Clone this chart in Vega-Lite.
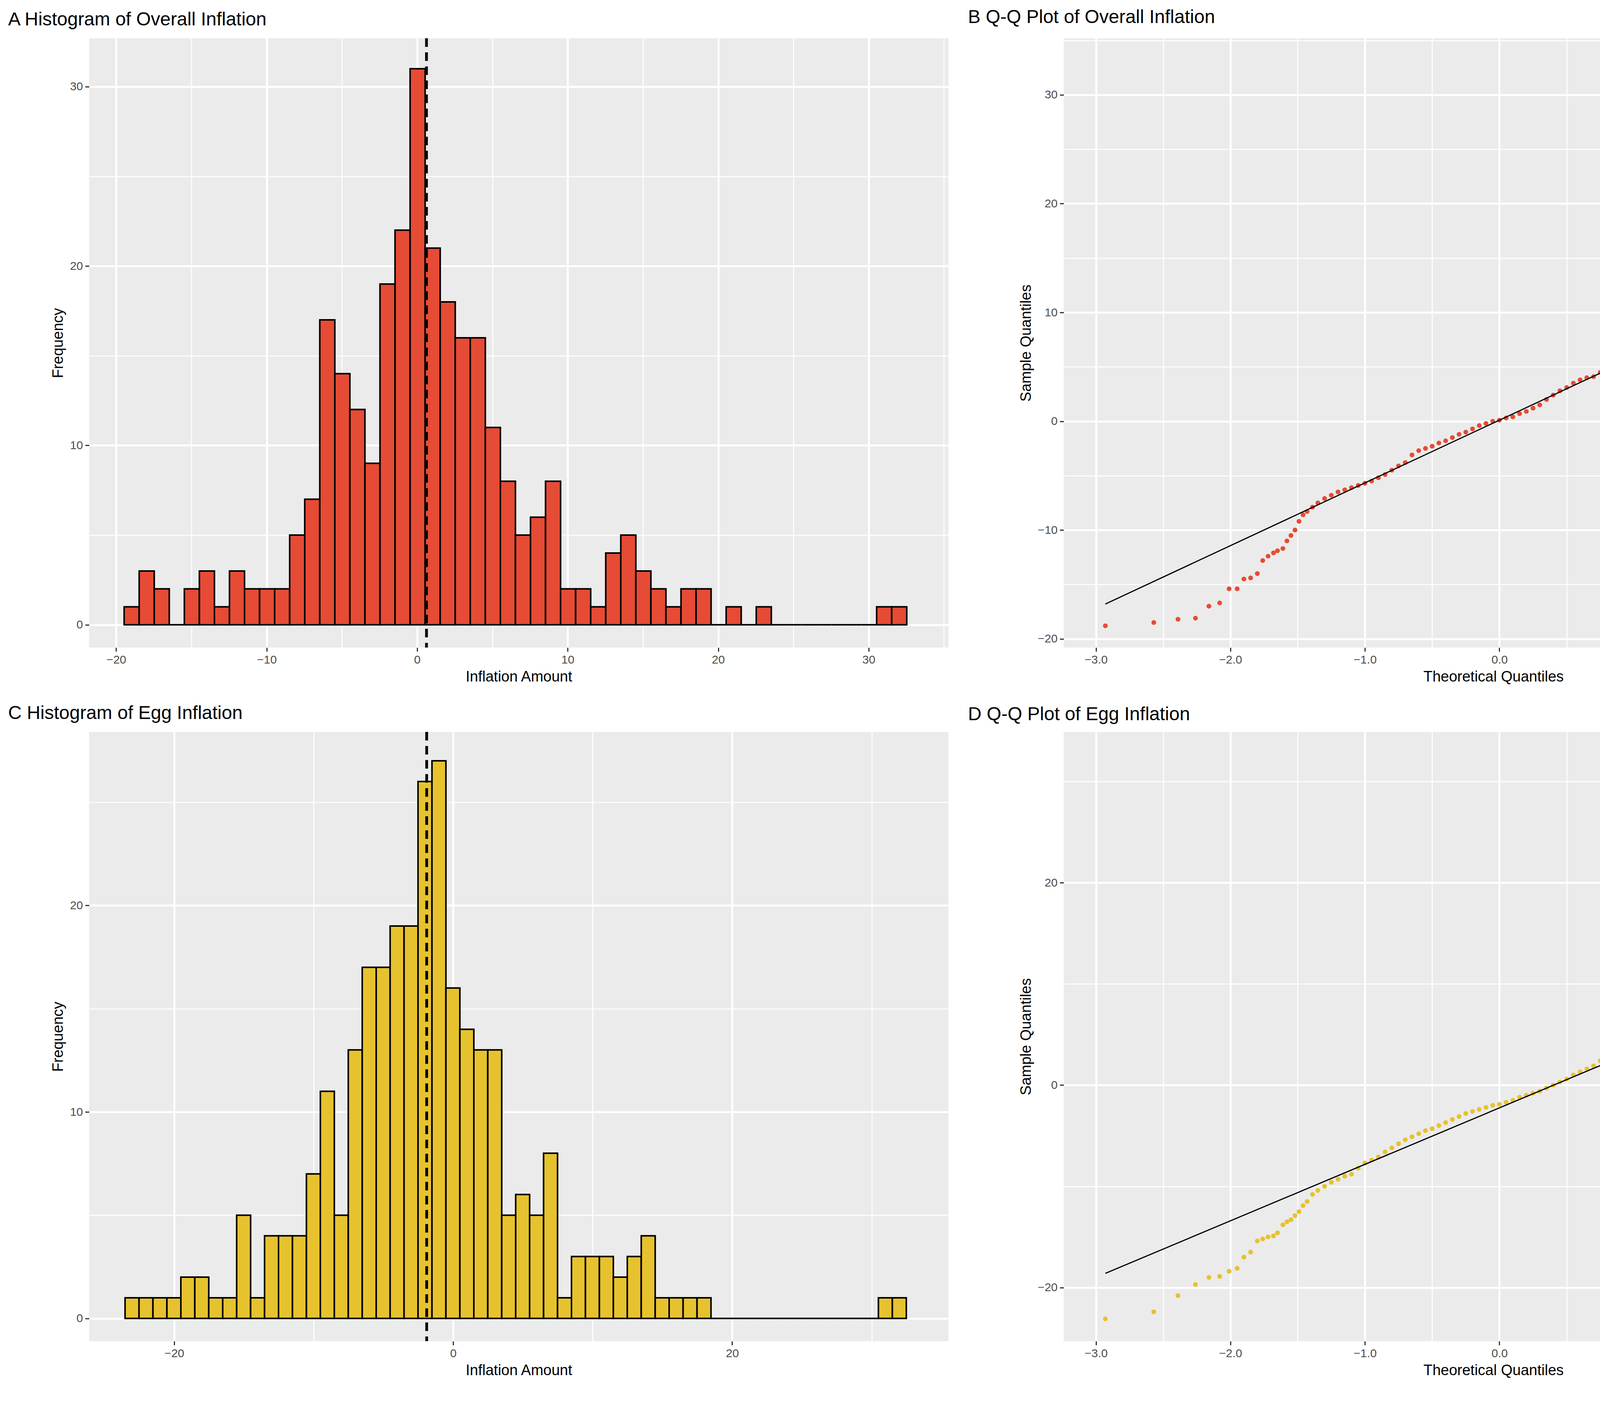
{
"$schema":"https://vega.github.io/schema/vega-lite/v6.json",
"background":"white",
"padding":{"left":20,"top":20,"right":30,"bottom":20},
"config":{"font":"Liberation Sans","view":{"fill":"#EBEBEB","stroke":null},
"axis":{"grid":true,"gridColor":"white","domain":false,"tickColor":"#333333","tickSize":10,"tickWidth":3,"labelFontSize":30,"labelColor":"#4D4D4D","titleFontSize":38,"titleFontWeight":"normal","titleColor":"black","labelPadding":6,"titlePadding":10,"labelOverlap":false},
"title":{"fontSize":48,"fontWeight":"normal","anchor":"start","color":"black","offset":20},
"concat":{"spacing":50}},
"datasets":{
"histA":[{"s":-19.47,"c":1},{"s":-18.47,"c":3},{"s":-17.47,"c":2},{"s":-16.47,"c":0},{"s":-15.47,"c":2},{"s":-14.47,"c":3},{"s":-13.47,"c":1},{"s":-12.47,"c":3},{"s":-11.47,"c":2},{"s":-10.47,"c":2},{"s":-9.47,"c":2},{"s":-8.47,"c":5},{"s":-7.47,"c":7},{"s":-6.47,"c":17},{"s":-5.47,"c":14},{"s":-4.47,"c":12},{"s":-3.47,"c":9},{"s":-2.47,"c":19},{"s":-1.47,"c":22},{"s":-0.47,"c":31},{"s":0.53,"c":21},{"s":1.53,"c":18},{"s":2.53,"c":16},{"s":3.53,"c":16},{"s":4.53,"c":11},{"s":5.53,"c":8},{"s":6.53,"c":5},{"s":7.53,"c":6},{"s":8.53,"c":8},{"s":9.53,"c":2},{"s":10.53,"c":2},{"s":11.53,"c":1},{"s":12.53,"c":4},{"s":13.53,"c":5},{"s":14.53,"c":3},{"s":15.53,"c":2},{"s":16.53,"c":1},{"s":17.53,"c":2},{"s":18.53,"c":2},{"s":19.53,"c":0},{"s":20.53,"c":1},{"s":21.53,"c":0},{"s":22.53,"c":1},{"s":23.53,"c":0},{"s":24.53,"c":0},{"s":25.53,"c":0},{"s":26.53,"c":0},{"s":27.53,"c":0},{"s":28.53,"c":0},{"s":29.53,"c":0},{"s":30.53,"c":1},{"s":31.53,"c":1}],
"histC":[{"s":-23.52,"c":1},{"s":-22.52,"c":1},{"s":-21.52,"c":1},{"s":-20.52,"c":1},{"s":-19.52,"c":2},{"s":-18.52,"c":2},{"s":-17.52,"c":1},{"s":-16.52,"c":1},{"s":-15.52,"c":5},{"s":-14.52,"c":1},{"s":-13.52,"c":4},{"s":-12.52,"c":4},{"s":-11.52,"c":4},{"s":-10.52,"c":7},{"s":-9.52,"c":11},{"s":-8.52,"c":5},{"s":-7.52,"c":13},{"s":-6.52,"c":17},{"s":-5.52,"c":17},{"s":-4.52,"c":19},{"s":-3.52,"c":19},{"s":-2.52,"c":26},{"s":-1.52,"c":27},{"s":-0.52,"c":16},{"s":0.48,"c":14},{"s":1.48,"c":13},{"s":2.48,"c":13},{"s":3.48,"c":5},{"s":4.48,"c":6},{"s":5.48,"c":5},{"s":6.48,"c":8},{"s":7.48,"c":1},{"s":8.48,"c":3},{"s":9.48,"c":3},{"s":10.48,"c":3},{"s":11.48,"c":2},{"s":12.48,"c":3},{"s":13.48,"c":4},{"s":14.48,"c":1},{"s":15.48,"c":1},{"s":16.48,"c":1},{"s":17.48,"c":1},{"s":18.48,"c":0},{"s":19.48,"c":0},{"s":20.48,"c":0},{"s":21.48,"c":0},{"s":22.48,"c":0},{"s":23.48,"c":0},{"s":24.48,"c":0},{"s":25.48,"c":0},{"s":26.48,"c":0},{"s":27.48,"c":0},{"s":28.48,"c":0},{"s":29.48,"c":0},{"s":30.48,"c":1},{"s":31.48,"c":1}],
"qqB":[{"t":-2.93,"v":-18.8},{"t":-2.57,"v":-18.5},{"t":-2.39,"v":-18.2},{"t":-2.26,"v":-18.1},{"t":-2.16,"v":-17.0},{"t":-2.08,"v":-16.7},{"t":-2.01,"v":-15.4},{"t":-1.95,"v":-15.4},{"t":-1.9,"v":-14.5},{"t":-1.85,"v":-14.4},{"t":-1.8,"v":-14.0},{"t":-1.76,"v":-12.8},{"t":-1.72,"v":-12.4},{"t":-1.68,"v":-12.1},{"t":-1.65,"v":-11.9},{"t":-1.61,"v":-11.7},{"t":-1.58,"v":-11.0},{"t":-1.55,"v":-10.5},{"t":-1.52,"v":-10.0},{"t":-1.49,"v":-9.2},{"t":-1.46,"v":-8.6},{"t":-1.43,"v":-8.3},{"t":-1.39,"v":-7.9},{"t":-1.35,"v":-7.5},{"t":-1.3,"v":-7.1},{"t":-1.25,"v":-6.8},{"t":-1.2,"v":-6.5},{"t":-1.15,"v":-6.3},{"t":-1.1,"v":-6.1},{"t":-1.05,"v":-5.9},{"t":-1.0,"v":-5.7},{"t":-0.95,"v":-5.5},{"t":-0.9,"v":-5.2},{"t":-0.85,"v":-4.9},{"t":-0.8,"v":-4.5},{"t":-0.75,"v":-4.1},{"t":-0.7,"v":-3.8},{"t":-0.65,"v":-3.1},{"t":-0.6,"v":-2.7},{"t":-0.55,"v":-2.5},{"t":-0.5,"v":-2.3},{"t":-0.45,"v":-2.0},{"t":-0.4,"v":-1.8},{"t":-0.35,"v":-1.5},{"t":-0.3,"v":-1.2},{"t":-0.25,"v":-1.0},{"t":-0.2,"v":-0.7},{"t":-0.15,"v":-0.4},{"t":-0.1,"v":-0.2},{"t":-0.05,"v":0.0},{"t":0.0,"v":0.1},{"t":0.05,"v":0.3},{"t":0.1,"v":0.4},{"t":0.15,"v":0.7},{"t":0.2,"v":0.9},{"t":0.25,"v":1.2},{"t":0.3,"v":1.5},{"t":0.35,"v":2.0},{"t":0.4,"v":2.4},{"t":0.45,"v":2.8},{"t":0.5,"v":3.1},{"t":0.55,"v":3.5},{"t":0.6,"v":3.8},{"t":0.65,"v":4.0},{"t":0.7,"v":4.1},{"t":0.75,"v":4.5},{"t":0.8,"v":4.9},{"t":0.85,"v":5.3},{"t":0.9,"v":5.6},{"t":0.95,"v":6.1},{"t":1.0,"v":6.6},{"t":1.05,"v":7.5},{"t":1.1,"v":8.3},{"t":1.15,"v":8.8},{"t":1.2,"v":9.0},{"t":1.25,"v":9.2},{"t":1.3,"v":9.5},{"t":1.35,"v":10.0},{"t":1.4,"v":11.3},{"t":1.43,"v":12.0},{"t":1.46,"v":12.7},{"t":1.49,"v":13.3},{"t":1.52,"v":13.5},{"t":1.55,"v":13.6},{"t":1.58,"v":13.7},{"t":1.61,"v":13.9},{"t":1.65,"v":14.3},{"t":1.68,"v":14.5},{"t":1.72,"v":15.0},{"t":1.76,"v":15.6},{"t":1.8,"v":16.0},{"t":1.85,"v":17.2},{"t":1.9,"v":17.6},{"t":1.95,"v":18.2},{"t":2.01,"v":18.7},{"t":2.08,"v":18.8},{"t":2.16,"v":18.8},{"t":2.26,"v":20.5},{"t":2.39,"v":23.1},{"t":2.57,"v":31.0},{"t":2.93,"v":32.4}],
"qqD":[{"t":-2.93,"v":-23.1},{"t":-2.57,"v":-22.4},{"t":-2.39,"v":-20.8},{"t":-2.26,"v":-19.7},{"t":-2.16,"v":-19.0},{"t":-2.08,"v":-18.9},{"t":-2.01,"v":-18.4},{"t":-1.95,"v":-18.1},{"t":-1.9,"v":-17.0},{"t":-1.85,"v":-16.5},{"t":-1.8,"v":-15.4},{"t":-1.76,"v":-15.2},{"t":-1.72,"v":-15.0},{"t":-1.68,"v":-14.9},{"t":-1.65,"v":-14.6},{"t":-1.61,"v":-13.8},{"t":-1.58,"v":-13.5},{"t":-1.55,"v":-13.3},{"t":-1.52,"v":-12.9},{"t":-1.49,"v":-12.5},{"t":-1.46,"v":-11.9},{"t":-1.43,"v":-11.5},{"t":-1.39,"v":-10.8},{"t":-1.35,"v":-10.4},{"t":-1.3,"v":-10.0},{"t":-1.25,"v":-9.6},{"t":-1.2,"v":-9.3},{"t":-1.15,"v":-9.0},{"t":-1.1,"v":-8.8},{"t":-1.05,"v":-8.2},{"t":-1.0,"v":-7.7},{"t":-0.95,"v":-7.4},{"t":-0.9,"v":-7.1},{"t":-0.85,"v":-6.6},{"t":-0.8,"v":-6.2},{"t":-0.75,"v":-5.8},{"t":-0.7,"v":-5.4},{"t":-0.65,"v":-5.1},{"t":-0.6,"v":-4.8},{"t":-0.55,"v":-4.5},{"t":-0.5,"v":-4.3},{"t":-0.45,"v":-4.0},{"t":-0.4,"v":-3.7},{"t":-0.35,"v":-3.4},{"t":-0.3,"v":-3.1},{"t":-0.25,"v":-2.8},{"t":-0.2,"v":-2.6},{"t":-0.15,"v":-2.4},{"t":-0.1,"v":-2.2},{"t":-0.05,"v":-2.0},{"t":0.0,"v":-1.9},{"t":0.05,"v":-1.7},{"t":0.1,"v":-1.5},{"t":0.15,"v":-1.2},{"t":0.2,"v":-1.0},{"t":0.25,"v":-0.8},{"t":0.3,"v":-0.6},{"t":0.35,"v":-0.3},{"t":0.4,"v":0.0},{"t":0.45,"v":0.3},{"t":0.5,"v":0.6},{"t":0.55,"v":1.0},{"t":0.6,"v":1.3},{"t":0.65,"v":1.6},{"t":0.7,"v":1.9},{"t":0.75,"v":2.4},{"t":0.8,"v":2.8},{"t":0.85,"v":3.1},{"t":0.9,"v":3.5},{"t":0.95,"v":3.9},{"t":1.0,"v":4.4},{"t":1.05,"v":5.2},{"t":1.1,"v":5.8},{"t":1.15,"v":6.3},{"t":1.2,"v":7.0},{"t":1.25,"v":7.1},{"t":1.3,"v":7.3},{"t":1.35,"v":8.2},{"t":1.4,"v":9.0},{"t":1.43,"v":9.5},{"t":1.46,"v":10.0},{"t":1.49,"v":10.3},{"t":1.52,"v":10.6},{"t":1.55,"v":11.3},{"t":1.58,"v":11.6},{"t":1.61,"v":11.9},{"t":1.65,"v":12.3},{"t":1.68,"v":12.6},{"t":1.72,"v":12.9},{"t":1.76,"v":13.2},{"t":1.8,"v":14.0},{"t":1.85,"v":14.1},{"t":1.9,"v":14.2},{"t":1.95,"v":14.3},{"t":2.01,"v":14.5},{"t":2.08,"v":14.8},{"t":2.16,"v":15.6},{"t":2.26,"v":16.8},{"t":2.39,"v":18.5},{"t":2.57,"v":30.9},{"t":2.93,"v":32.3}],
"lineB":[{"t":-2.93,"v":-16.8},{"t":2.93,"v":17.0}],
"lineD":[{"t":-2.93,"v":-18.6},{"t":2.93,"v":14.1}]
},
"vconcat":[
{"hconcat":[
{"width":2200,"height":1560,"title":{"text":"A    Histogram of Overall Inflation","dx":-110},
"layer":[
{"data":{"name":"histA"},"transform":[{"calculate":"datum.s+1","as":"e"}],"mark":{"type":"bar","fill":"#E64B35","stroke":"black","strokeWidth":4},"encoding":{
 "x":{"field":"s","type":"quantitative","scale":{"domain":[-21.8,35.3],"nice":false,"zero":false},"axis":{"values":[-20,-15,-10,-5,0,5,10,15,20,25,30,35],"labelExpr":"datum.value % 10 === 0 ? datum.label : ''","tickOpacity":{"condition":{"test":"datum.value % 10 !== 0","value":0},"value":1},"gridWidth":{"condition":{"test":"datum.value % 10 !== 0","value":2.5},"value":5},"title":"Inflation Amount"}},"x2":{"field":"e"},
 "y":{"field":"c","type":"quantitative","scale":{"domain":[-1.27,32.7],"nice":false,"zero":false},"axis":{"values":[0,5,10,15,20,25,30],"labelExpr":"datum.value % 10 === 0 ? datum.label : ''","tickOpacity":{"condition":{"test":"datum.value % 10 !== 0","value":0},"value":1},"gridWidth":{"condition":{"test":"datum.value % 10 !== 0","value":2.5},"value":5},"title":"Frequency"}},"y2":{"datum":0}}},
{"data":{"values":[{}]},"mark":{"type":"rule","strokeDash":[22,14],"strokeWidth":7,"color":"black"},"encoding":{"x":{"datum":0.62}}}
]},
{"width":2200,"height":1560,"title":{"text":"B    Q-Q Plot of Overall Inflation","dx":-130},
"layer":[
{"data":{"name":"qqB"},"mark":{"type":"circle","size":150,"color":"#E64B35","opacity":1},"encoding":{
 "x":{"field":"t","type":"quantitative","scale":{"domain":[-3.24,3.15],"nice":false,"zero":false},"axis":{"values":[-3,-2.5,-2,-1.5,-1,-0.5,0,0.5,1,1.5,2,2.5,3],"labelExpr":"datum.value % 1 === 0 ? datum.label : ''","tickOpacity":{"condition":{"test":"datum.value % 1 !== 0","value":0},"value":1},"gridWidth":{"condition":{"test":"datum.value % 1 !== 0","value":2.5},"value":5},"title":"Theoretical Quantiles"}},
 "y":{"field":"v","type":"quantitative","scale":{"domain":[-20.8,35.2],"nice":false,"zero":false},"axis":{"values":[-20,-15,-10,-5,0,5,10,15,20,25,30,35],"labelExpr":"datum.value % 10 === 0 ? datum.label : ''","tickOpacity":{"condition":{"test":"datum.value % 10 !== 0","value":0},"value":1},"gridWidth":{"condition":{"test":"datum.value % 10 !== 0","value":2.5},"value":5},"title":"Sample Quantiles"}}}},
{"data":{"name":"lineB"},"mark":{"type":"line","color":"black","strokeWidth":3},"encoding":{"x":{"field":"t","type":"quantitative"},"y":{"field":"v","type":"quantitative"}}}
]}
]},
{"hconcat":[
{"width":2200,"height":1560,"title":{"text":"C    Histogram of Egg Inflation","dx":-110},
"layer":[
{"data":{"name":"histC"},"transform":[{"calculate":"datum.s+1","as":"e"}],"mark":{"type":"bar","fill":"#E7C22F","stroke":"black","strokeWidth":4},"encoding":{
 "x":{"field":"s","type":"quantitative","scale":{"domain":[-26.1,35.5],"nice":false,"zero":false},"axis":{"values":[-20,-10,0,10,20,30],"labelExpr":"datum.value % 20 === 0 ? datum.label : ''","tickOpacity":{"condition":{"test":"datum.value % 20 !== 0","value":0},"value":1},"gridWidth":{"condition":{"test":"datum.value % 20 !== 0","value":2.5},"value":5},"title":"Inflation Amount"}},"x2":{"field":"e"},
 "y":{"field":"c","type":"quantitative","scale":{"domain":[-1.1,28.4],"nice":false,"zero":false},"axis":{"values":[0,5,10,15,20,25],"labelExpr":"datum.value % 10 === 0 ? datum.label : ''","tickOpacity":{"condition":{"test":"datum.value % 10 !== 0","value":0},"value":1},"gridWidth":{"condition":{"test":"datum.value % 10 !== 0","value":2.5},"value":5},"title":"Frequency"}},"y2":{"datum":0}}},
{"data":{"values":[{}]},"mark":{"type":"rule","strokeDash":[22,14],"strokeWidth":7,"color":"black"},"encoding":{"x":{"datum":-1.9}}}
]},
{"width":2200,"height":1560,"title":{"text":"D    Q-Q Plot of Egg Inflation","dx":-130},
"layer":[
{"data":{"name":"qqD"},"mark":{"type":"circle","size":150,"color":"#E7C22F","opacity":1},"encoding":{
 "x":{"field":"t","type":"quantitative","scale":{"domain":[-3.24,3.15],"nice":false,"zero":false},"axis":{"values":[-3,-2.5,-2,-1.5,-1,-0.5,0,0.5,1,1.5,2,2.5,3],"labelExpr":"datum.value % 1 === 0 ? datum.label : ''","tickOpacity":{"condition":{"test":"datum.value % 1 !== 0","value":0},"value":1},"gridWidth":{"condition":{"test":"datum.value % 1 !== 0","value":2.5},"value":5},"title":"Theoretical Quantiles"}},
 "y":{"field":"v","type":"quantitative","scale":{"domain":[-25.3,34.9],"nice":false,"zero":false},"axis":{"values":[-20,-10,0,10,20,30],"labelExpr":"datum.value % 20 === 0 ? datum.label : ''","tickOpacity":{"condition":{"test":"datum.value % 20 !== 0","value":0},"value":1},"gridWidth":{"condition":{"test":"datum.value % 20 !== 0","value":2.5},"value":5},"title":"Sample Quantiles"}}}},
{"data":{"name":"lineD"},"mark":{"type":"line","color":"black","strokeWidth":3},"encoding":{"x":{"field":"t","type":"quantitative"},"y":{"field":"v","type":"quantitative"}}}
]}
]}
]
}
